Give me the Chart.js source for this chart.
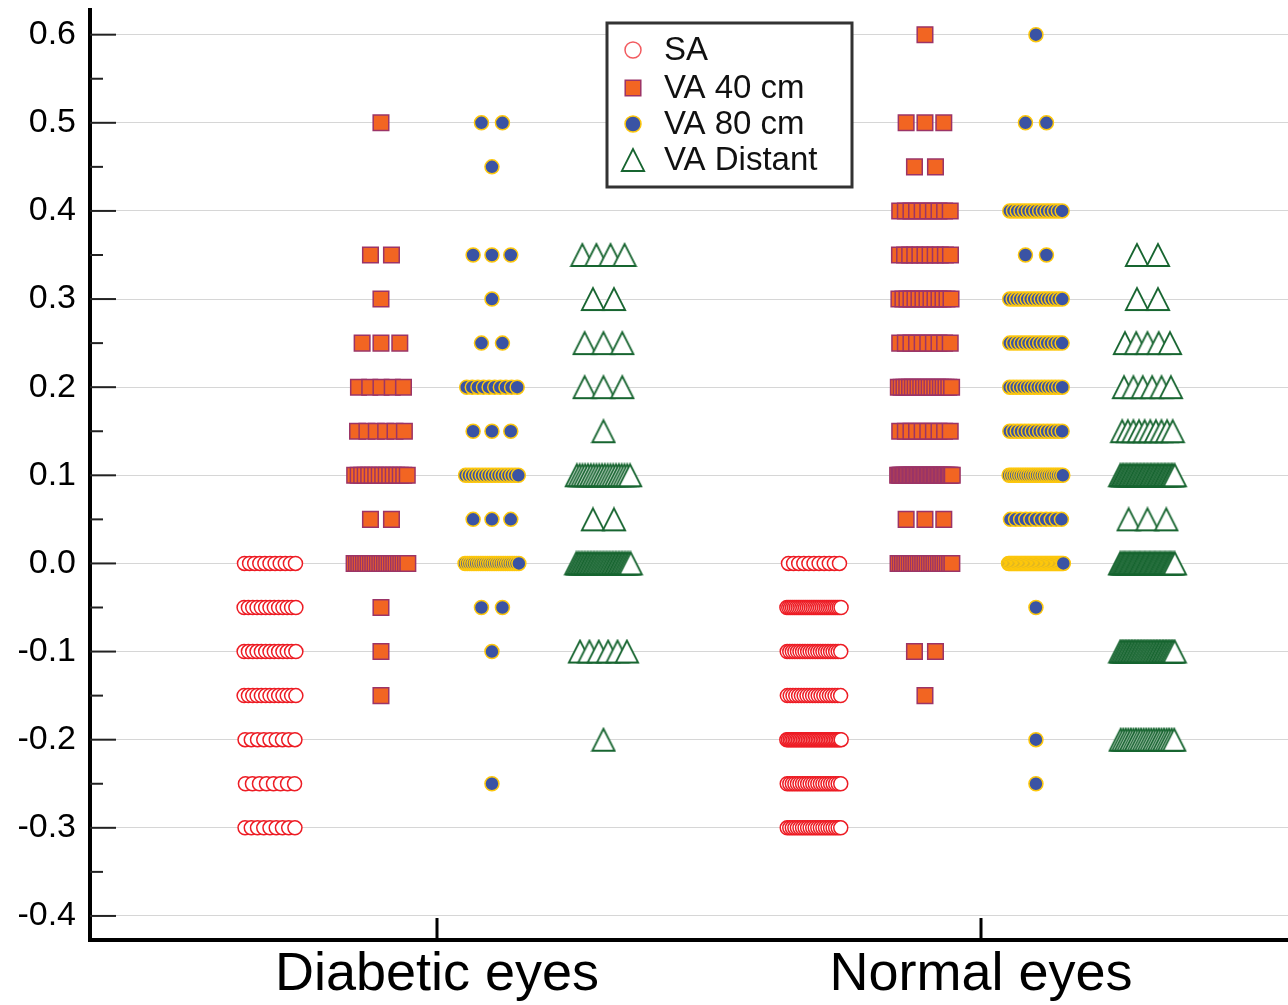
<!DOCTYPE html>
<html>
<head>
<meta charset="utf-8">
<script src="https://cdn.jsdelivr.net/npm/chart.js@4/dist/chart.umd.min.js"></script>
<style>
  body { margin: 0; background: #fff; }
  #wrap { width: 1288px; height: 1005px; }
</style>
</head>
<body>
<div id="wrap"><canvas id="myChart" width="1288" height="1005"></canvas></div>
<script>
// groups on the x axis
const groups = ['Diabetic eyes', 'Normal eyes'];
const yTicks = [-0.4, -0.3, -0.2, -0.1, 0.0, 0.1, 0.2, 0.3, 0.4, 0.5, 0.6];

// score levels, counts per level
const levels = [0.6, 0.55, 0.5, 0.45, 0.4, 0.35, 0.3, 0.25, 0.2, 0.15, 0.1, 0.05, 0, -0.05, -0.1, -0.15, -0.2, -0.25, -0.3];

const saDiabetic   = [0, 0, 0, 0, 0, 0, 0, 0, 0, 0, 0, 0, 11, 13, 13, 13, 9, 8, 9];
const saNormal     = [0, 0, 0, 0, 0, 0, 0, 0, 0, 0, 0, 0, 11, 30, 22, 20, 34, 22, 22];
const va40Diabetic = [0, 0, 1, 0, 0, 2, 1, 3, 5, 6, 16, 2, 24, 1, 1, 1, 0, 0, 0];
const va40Normal   = [1, 0, 3, 2, 10, 11, 14, 10, 20, 10, 40, 3, 25, 0, 2, 1, 0, 0, 0];
const va80Diabetic = [0, 0, 2, 1, 0, 3, 1, 2, 10, 3, 17, 3, 25, 2, 1, 0, 0, 1, 0];
const va80Normal   = [1, 0, 2, 0, 15, 2, 16, 15, 16, 15, 24, 11, 45, 1, 0, 0, 1, 1, 0];
const distDiabetic = [0, 0, 0, 0, 0, 4, 2, 3, 3, 1, 20, 2, 38, 0, 6, 0, 1, 0, 0];
const distNormal   = [0, 0, 0, 0, 0, 2, 2, 5, 6, 10, 40, 3, 45, 0, 38, 0, 22, 0, 0];

const PX_PER_UNIT = 544; // x distance between the two groups

// spread n markers of one row around the column centre
function rowPoints(center, level, n) {
    const span = n > 1 ? Math.min(21 * (n - 1), 56 - 55 / n) : 0;
    const pts = [];
    for (let i = 0; i < n; i++) {
        const dx = n > 1 ? -span / 2 + span * i / (n - 1) : 0;
        pts.push({ x: center + dx / PX_PER_UNIT, y: level });
    }
    return pts;
}

function buildSeries(offset, diabetic, normal) {
    let pts = [];
    [diabetic, normal].forEach((counts, g) => {
        levels.forEach((lv, i) => {
            if (counts[i] > 0) pts = pts.concat(rowPoints(g + 1 + offset, lv, counts[i]));
        });
    });
    return pts;
}

// open triangle centred on its box, a bit taller than chart.js' own
function makeTriangle(color) {
    const c = document.createElement('canvas');
    c.width = 26; c.height = 26;
    const g = c.getContext('2d');
    g.beginPath();
    g.moveTo(13, 2);
    g.lineTo(1.8, 24);
    g.lineTo(24.2, 24);
    g.closePath();
    g.fillStyle = '#fff';
    g.fill();
    g.strokeStyle = color;
    g.lineWidth = 1.8;
    g.stroke();
    return c;
}
const triangleImg = makeTriangle('#176530');

const series = [
    { label: 'SA', data: buildSeries(-0.307, saDiabetic, saNormal),
      pointStyle: 'circle', pointRadius: 7, backgroundColor: '#ffffff', borderColor: '#ed1c24', borderWidth: 1.5 },
    { label: 'VA 40 cm', data: buildSeries(-0.103, va40Diabetic, va40Normal),
      pointStyle: 'rect', pointRadius: 11, backgroundColor: '#f26522', borderColor: '#9b3467', borderWidth: 1.5 },
    { label: 'VA 80 cm', data: buildSeries(0.101, va80Diabetic, va80Normal),
      pointStyle: 'circle', pointRadius: 7, backgroundColor: '#3a53a4', borderColor: '#fdc70c', borderWidth: 1.5 },
    { label: 'VA Distant', data: buildSeries(0.306, distDiabetic, distNormal),
      pointStyle: triangleImg, pointRadius: 13, backgroundColor: '#ffffff', borderColor: '#176530', borderWidth: 1.5 }
];

// inner tick marks on both axes
const axisTicks = {
    id: 'axisTicks',
    afterDraw(chart) {
        const ctx = chart.ctx;
        const ys = chart.scales.y, xs = chart.scales.x;
        const left = chart.chartArea.left, bottom = chart.chartArea.bottom;
        ctx.save();
        ctx.strokeStyle = '#222';
        ctx.lineWidth = 2;
        yTicks.forEach(v => {
            const py = ys.getPixelForValue(v);
            ctx.beginPath(); ctx.moveTo(left, py); ctx.lineTo(left + 26, py); ctx.stroke();
            if (v < 0.6) {
                const pm = ys.getPixelForValue(v + 0.05);
                ctx.beginPath(); ctx.moveTo(left, pm); ctx.lineTo(left + 13, pm); ctx.stroke();
            }
        });
        ctx.strokeStyle = '#000';
        ctx.lineWidth = 3;
        [1, 2].forEach(v => {
            const px = xs.getPixelForValue(v);
            ctx.beginPath(); ctx.moveTo(px, bottom); ctx.lineTo(px, bottom - 22); ctx.stroke();
        });
        ctx.restore();
    }
};

// boxed legend inside the plot
const boxLegend = {
    id: 'boxLegend',
    afterDraw(chart) {
        const ctx = chart.ctx;
        ctx.save();
        ctx.fillStyle = '#fff';
        ctx.fillRect(607, 23, 245, 164);
        ctx.strokeStyle = '#333';
        ctx.lineWidth = 3;
        ctx.strokeRect(607, 23, 245, 164);
        const rows = [50, 88, 124, 160];
        const legendRadius = [8, 11, 8, 13];
        chart.data.datasets.forEach((ds, i) => {
            ctx.fillStyle = ds.backgroundColor;
            ctx.strokeStyle = i === 0 ? '#f25a5f' : ds.borderColor;
            ctx.lineWidth = ds.borderWidth;
            Chart.helpers.drawPoint(ctx, {
                pointStyle: ds.pointStyle, radius: legendRadius[i], rotation: 0, borderWidth: ds.borderWidth
            }, 633, rows[i]);
            ctx.fillStyle = '#111';
            ctx.font = "33px 'Liberation Sans', Arial, sans-serif";
            ctx.textBaseline = 'middle';
            ctx.textAlign = 'left';
            ctx.fillText(ds.label, 664, rows[i] + 1);
        });
        ctx.restore();
    }
};

Chart.defaults.font.family = "'Liberation Sans', Arial, sans-serif";

new Chart(document.getElementById('myChart'), {
    type: 'scatter',
    data: { datasets: series },
    options: {
        responsive: false,
        animation: false,
        events: [],
        layout: { autoPadding: false, padding: { top: 10, right: 0, left: 0, bottom: 0 } },
        plugins: { legend: { display: false }, tooltip: { enabled: false } },
        scales: {
            x: {
                type: 'linear',
                min: 1 - 347 / PX_PER_UNIT,
                max: 2 + 307 / PX_PER_UNIT,
                afterBuildTicks: s => { s.ticks = [{ value: 1 }, { value: 2 }]; },
                afterFit: s => { s.height = 65; s.paddingLeft = 0; s.paddingRight = 0; },
                grid: { display: false, drawTicks: false },
                border: { display: true, color: '#000', width: 4 },
                ticks: {
                    autoSkip: false, maxRotation: 0, padding: 3,
                    color: '#000', font: { size: 54 },
                    callback: v => groups[Math.round(v) - 1]
                }
            },
            y: {
                min: -0.4273,
                max: 0.628,
                afterBuildTicks: s => { s.ticks = yTicks.map(v => ({ value: v })); },
                afterFit: s => { s.width = 90; s.paddingTop = 0; s.paddingBottom = 0; },
                grid: { color: '#d6d6d6', lineWidth: 1, drawTicks: false },
                border: { display: true, color: '#000', width: 4 },
                ticks: {
                    padding: 14, color: '#000', font: { size: 34 },
                    callback: v => v.toFixed(1)
                }
            }
        }
    },
    plugins: [axisTicks, boxLegend]
});
</script>
</body>
</html>
